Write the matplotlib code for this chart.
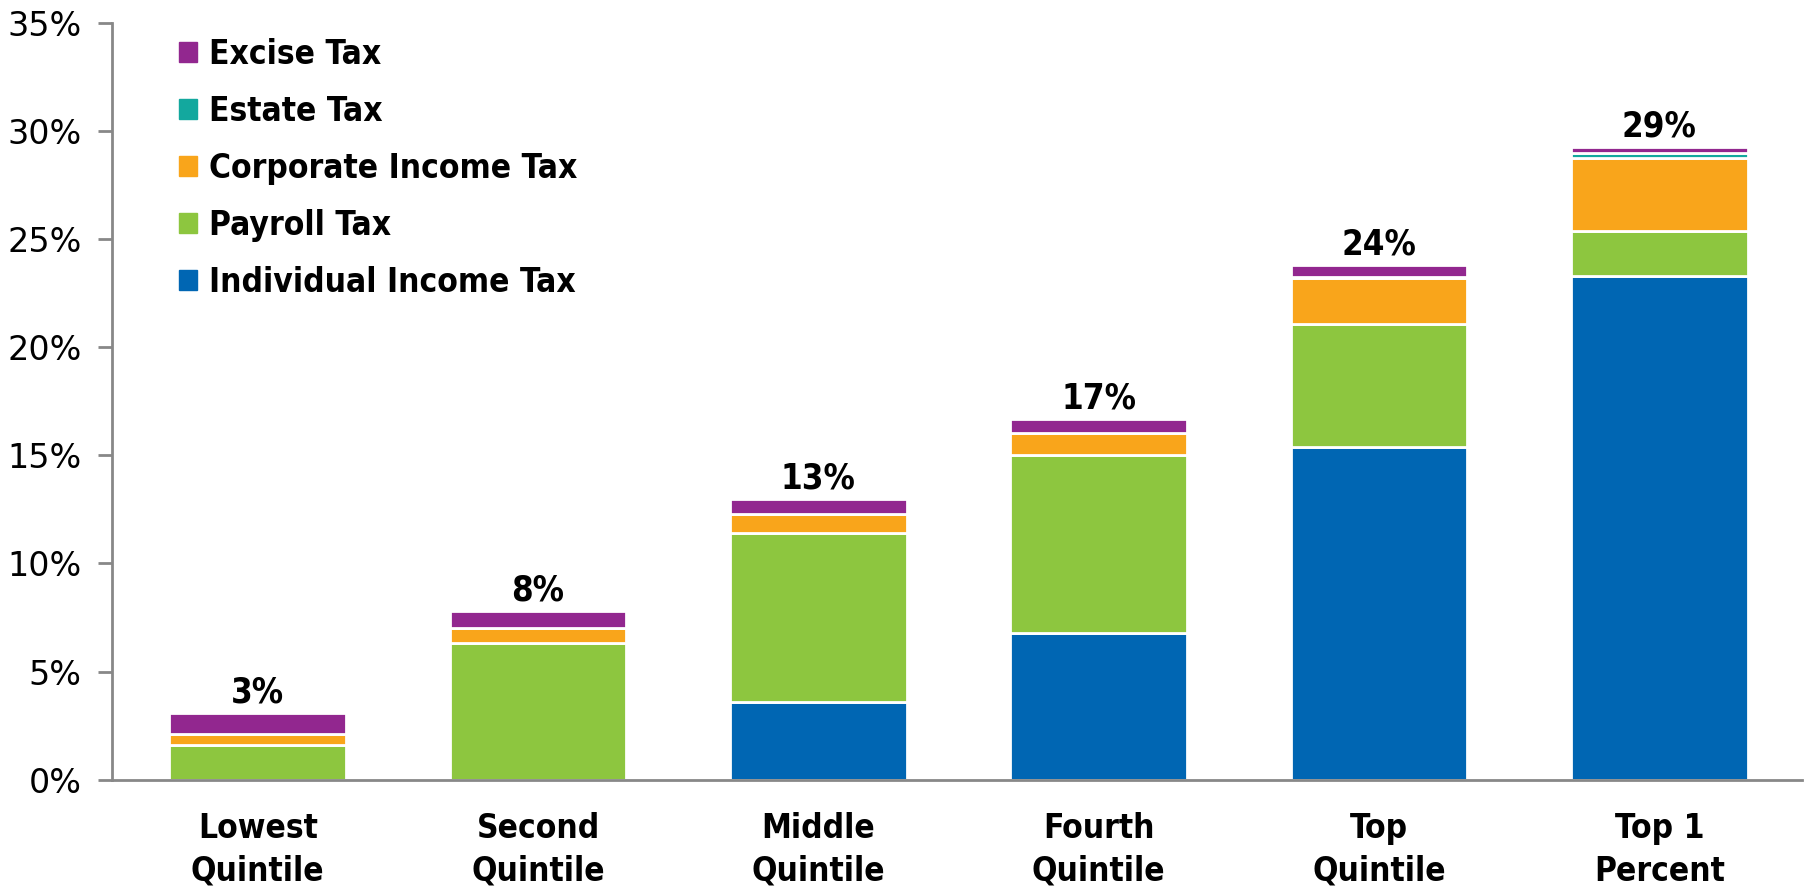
import matplotlib.pyplot as plt
import numpy as np
from matplotlib.patches import Patch
from matplotlib.ticker import FuncFormatter
from matplotlib import font_manager

# data (percent of income)
groups = ["Lowest\nQuintile", "Second\nQuintile", "Middle\nQuintile",
          "Fourth\nQuintile", "Top\nQuintile", "Top 1\nPercent"]
individual = [0.0, 0.0, 3.6, 6.8, 15.4, 23.3]
payroll = [1.6, 6.3, 7.8, 8.2, 5.7, 2.1]
corporate = [0.5, 0.7, 0.9, 1.05, 2.1, 3.35]
estate = [0.0, 0.0, 0.0, 0.0, 0.05, 0.22]
excise = [1.0, 0.8, 0.7, 0.65, 0.55, 0.3]
total_labels = ["3%", "8%", "13%", "17%", "24%", "29%"]

series = [("Individual Income Tax", individual, "#0066B3"),
          ("Payroll Tax", payroll, "#8DC63F"),
          ("Corporate Income Tax", corporate, "#F9A51B"),
          ("Estate Tax", estate, "#13A89E"),
          ("Excise Tax", excise, "#92278F")]

# condensed bold face if one is installed
cond = [f.fname for f in font_manager.fontManager.ttflist
        if f.stretch == "condensed" and f.weight in (700, "bold")]
if cond:
    lab_prop = dict(fname=cond[0])
else:
    lab_prop = dict(family="DejaVu Sans", weight="bold")

fig = plt.figure(figsize=(18.06, 8.89), dpi=100)
ax = fig.add_axes([0.062, 0.123, 0.936, 0.851])

x = np.arange(len(groups))
bottom = np.zeros(len(groups))
for name, vals, col in series:
    vals = np.array(vals)
    ax.bar(x, vals, 0.63, bottom=bottom, color=col, edgecolor="white",
           linewidth=2, label=name)
    bottom = bottom + vals

for xi, tot, lab in zip(x, bottom, total_labels):
    ax.text(xi, tot + 0.15, lab, ha="center", va="bottom",
            fontproperties=font_manager.FontProperties(size=25, **lab_prop))

ax.set_xlim(-0.52, 5.51)
ax.set_ylim(0, 35)
ax.set_yticks(np.arange(0, 36, 5))
ax.yaxis.set_major_formatter(FuncFormatter(lambda v, p: "%d%%" % v))
ax.set_xticks(x)
ax.set_xticklabels(groups, linespacing=1.4,
                   fontproperties=font_manager.FontProperties(size=24, **lab_prop))
ax.tick_params(axis="x", length=0, pad=23)
ax.tick_params(axis="y", labelsize=24, length=10, width=2, color="#888888", pad=12)
for s in ["top", "right"]:
    ax.spines[s].set_visible(False)
for s in ["left", "bottom"]:
    ax.spines[s].set_color("#888888")
    ax.spines[s].set_linewidth(2)

handles = [Patch(color=c) for n, v, c in series[::-1]]
names = [n for n, v, c in series[::-1]]
ax.legend(handles, names, loc="upper left", bbox_to_anchor=(0.022, 1.02),
          frameon=False, handlelength=0.55, handleheight=0.55, handletextpad=0.35,
          labelspacing=0.72,
          prop=font_manager.FontProperties(size=24, **lab_prop))

fig.savefig("out.png", dpi=100)
